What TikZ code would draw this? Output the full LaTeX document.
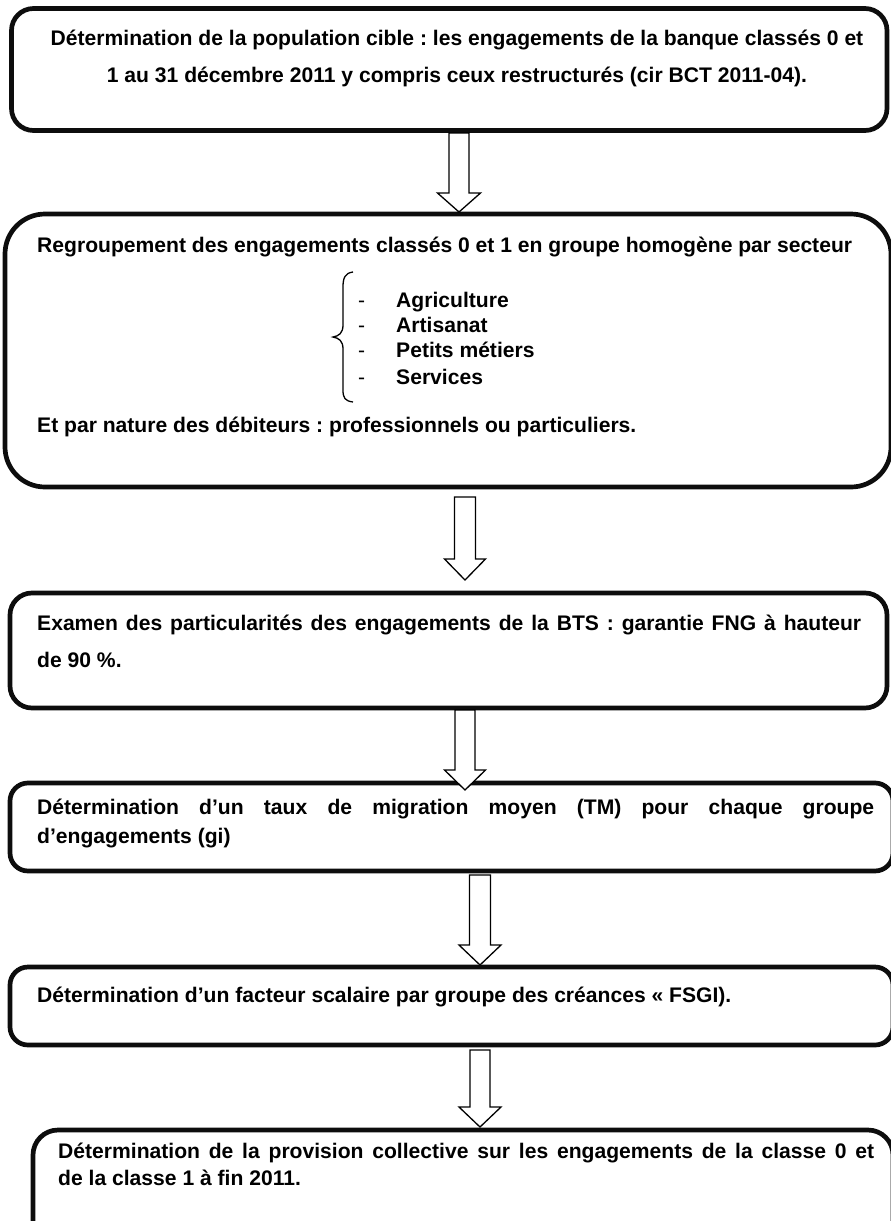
\documentclass[tikz,border=0pt]{standalone}
\usepackage{fontspec}
\setmainfont{Liberation Sans}
\usetikzlibrary{calc}
\frenchspacing
\newcommand\blockarr[5]{%
  \draw[arrowline] let \p1=(#1), \p2=(#2) in
    (\x1-#3,\y1) -- (\x1+#3,\y1) -- (\x1+#3,\y2+#5) -- (\x1+#4,\y2+#5)
    -- (\x2,\y2) -- (\x1-#4,\y2+#5) -- (\x1-#3,\y2+#5) -- cycle;}
\begin{document}
\frenchspacing
\begin{tikzpicture}[x=1pt,y=-1pt,
  boxst/.style={draw=black!95, line width=4.7pt, inner sep=0pt, rectangle},
  txt/.style={inner sep=0pt, anchor=base west, font=\fontsize{21.1}{25}\selectfont\bfseries\frenchspacing},
  ctxt/.style={txt, anchor=base},
  dashtxt/.style={inner sep=0pt, anchor=base west, font=\fontsize{21}{25}\selectfont},
  arrowline/.style={draw=black, line width=1.3pt, fill=white, line join=miter},
  bracest/.style={draw=black, line width=1.3pt}]
\useasboundingbox (0,0) rectangle (891,1221);

% boxes
\node[boxst, rounded corners=22pt, minimum width=875.5pt, minimum height=122pt] (b1) at (449.25,69.5) {};
\node[boxst, rounded corners=40pt, minimum width=886pt, minimum height=273pt] (b2) at (448,350.5) {};
\node[boxst, rounded corners=22pt, minimum width=877pt, minimum height=115pt] (b3) at (448.5,650.5) {};
\node[boxst, rounded corners=18pt, minimum width=883pt, minimum height=88pt] (b4) at (451.5,827) {};
\node[boxst, rounded corners=18pt, minimum width=883pt, minimum height=78pt] (b5) at (451.5,1006) {};
\node[boxst, rounded corners=25pt, minimum width=860pt, minimum height=120pt] (b6) at (463,1190) {};

% texts box 1
\node[ctxt] (t1a) at (457,45) {Détermination de la population cible : les engagements de la banque classés 0 et};
\node[ctxt] (t1b) at (457,82) {1 au 31 décembre 2011 y compris ceux restructurés (cir BCT 2011-04).};

% box 2
\node[txt] (t2a) at (37,252) {Regroupement des engagements classés 0 et 1 en groupe homogène par secteur};
\node[dashtxt] (d1) at (358,307) {-};
\node[dashtxt] (d2) at (358,332) {-};
\node[dashtxt] (d3) at (358,357) {-};
\node[dashtxt] (d4) at (358,384) {-};
\node[txt] (i1) at (396,307) {Agriculture};
\node[txt] (i2) at (396,332) {Artisanat};
\node[txt] (i3) at (396,357) {Petits métiers};
\node[txt] (i4) at (396,384) {Services};
\draw[bracest] (353,272) .. controls (345,273) and (343,278) .. (343,287) -- (343,325)
  .. controls (343,333) and (339,336) .. (333,337)
  .. controls (339,338) and (343,341) .. (343,349) -- (343,390)
  .. controls (343,398) and (345,401) .. (353,402);
\node[txt] (t2b) at (37,432) {Et par nature des débiteurs : professionnels ou particuliers.};

% box 3
\node[txt] (t3a) at (37,630) {\makebox[824pt][s]{Examen des particularités des engagements de la BTS : garantie FNG à hauteur}};
\node[txt] (t3b) at (37,667) {de 90 \%.};

% box 4
\node[txt] (t4a) at (37,814) {\makebox[837pt][s]{Détermination d’un taux de migration moyen (TM) pour chaque groupe}};
\node[txt] (t4b) at (37,843) {d’engagements (gi)};

% box 5
\node[txt] (t5) at (37,1002) {Détermination d’un facteur scalaire par groupe des créances « FSGI).};

% box 6
\node[txt] (t6a) at (58,1158) {\makebox[816pt][s]{Détermination de la provision collective sur les engagements de la classe 0 et}};
\node[txt] (t6b) at (58,1185) {de la classe 1 à fin 2011.};

% arrows
\coordinate (a1s) at (459,133);  \coordinate (a1e) at (459,212);
\coordinate (a2s) at (465,497);  \coordinate (a2e) at (465,580);
\coordinate (a3s) at (465,710);  \coordinate (a3e) at (465,790);
\coordinate (a4s) at (480,875);  \coordinate (a4e) at (480,965);
\coordinate (a5s) at (480,1050); \coordinate (a5e) at (480,1127);
\blockarr{a1s}{a1e}{10}{21.5}{19}
\blockarr{a2s}{a2e}{10.5}{20.5}{21}
\blockarr{a3s}{a3e}{10}{20.5}{20}
\blockarr{a4s}{a4e}{10.5}{21}{20}
\blockarr{a5s}{a5e}{10}{21}{20}
\end{tikzpicture}
\end{document}
